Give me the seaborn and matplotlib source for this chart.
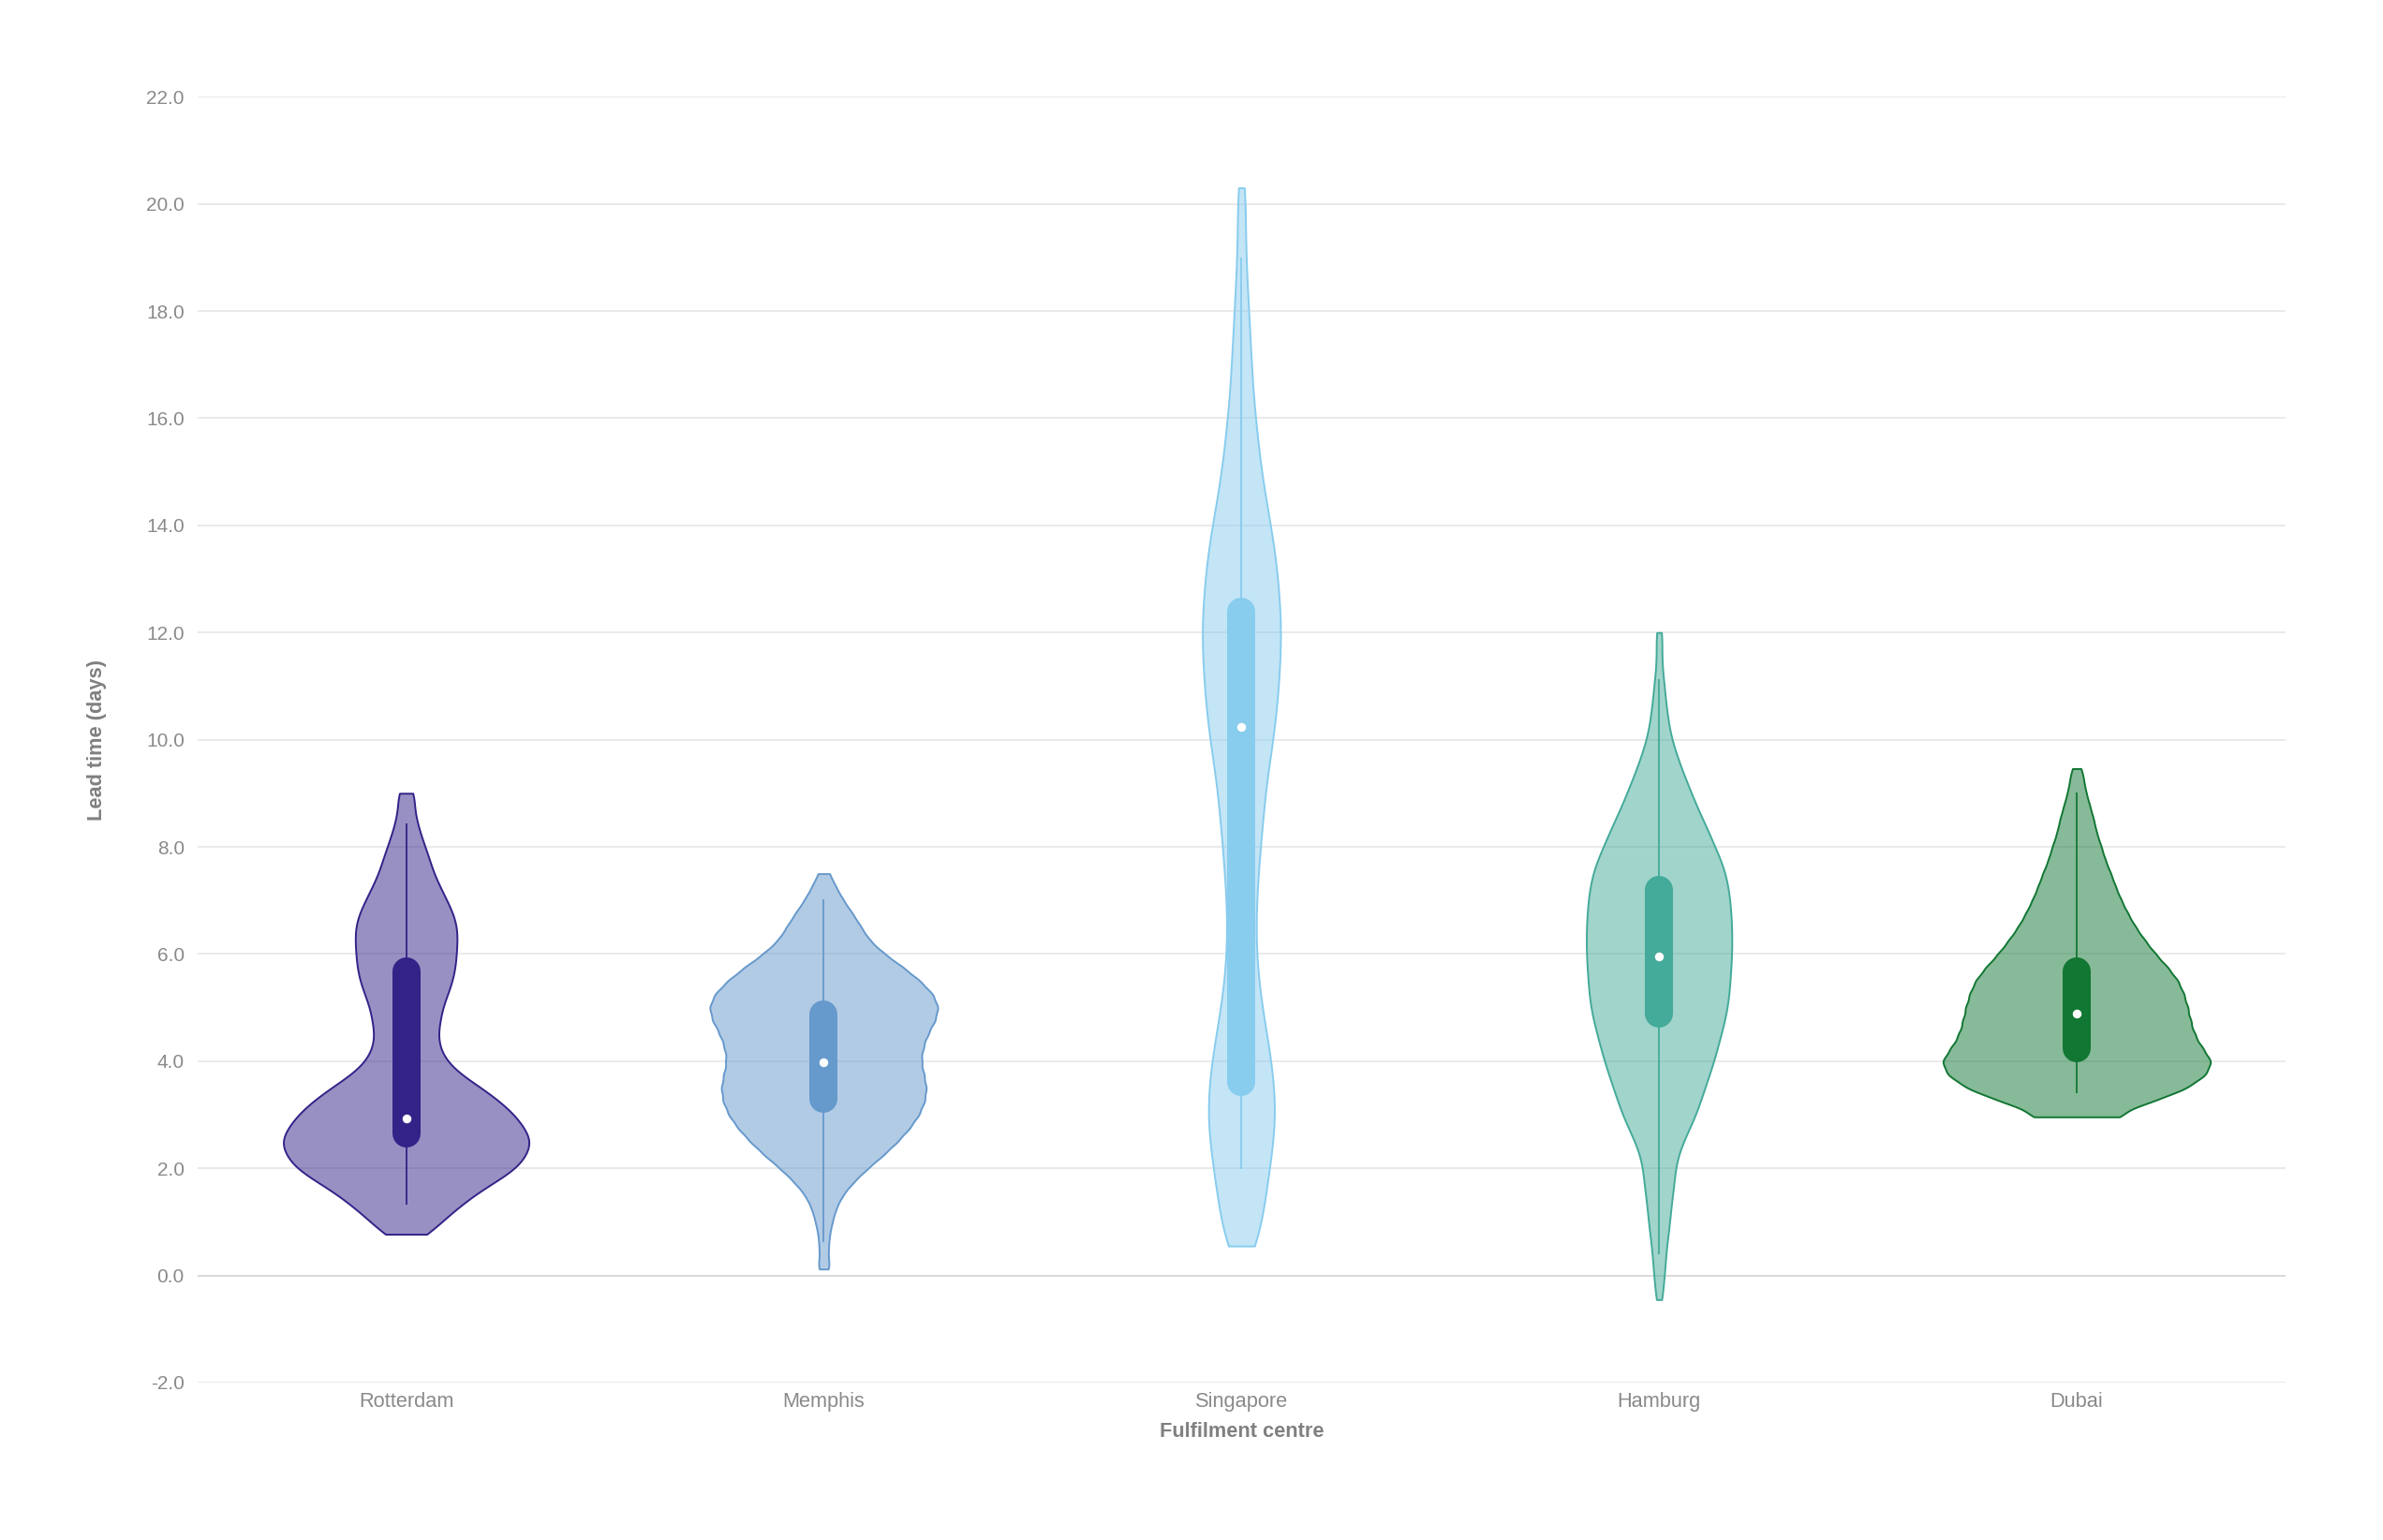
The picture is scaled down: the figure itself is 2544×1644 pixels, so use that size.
import numpy as np
import pandas as pd
import seaborn as sns
import matplotlib.pyplot as plt
from matplotlib.colors import to_rgb
from matplotlib.ticker import StrMethodFormatter

centres = ["Rotterdam", "Memphis", "Singapore", "Hamburg", "Dubai"]
colours = ["#332288", "#6699CC", "#88CCEE", "#44AA99", "#117733"]

# binned lead times: day value -> number of shipments in that bin
rotterdam_days = [0.77, 1.0, 1.25, 1.5, 1.75, 2.0, 2.25, 2.5, 2.75, 3.0, 3.25, 3.5,
                  3.75, 4.0, 4.25, 4.5, 4.75, 5.0, 5.25, 5.5, 5.75, 6.0, 6.25, 6.5,
                  6.75, 7.0, 7.25, 7.5, 7.75, 8.0, 8.25, 8.5, 8.75, 9.0]
rotterdam_n = [22, 36, 54, 71, 94, 118, 127, 134, 125, 115, 99, 80,
               57, 42, 35, 33, 36, 38, 44, 49, 52, 53, 54, 54,
               50, 43, 36, 29, 25, 20, 15, 11, 8, 10]

memphis_days = [0.12, 0.25, 0.5, 0.75, 1.0, 1.25, 1.5, 1.75, 2.0, 2.25, 2.5, 2.75,
                3.0, 3.25, 3.5, 3.75, 4.0, 4.25, 4.5, 4.75, 5.0, 5.25, 5.5, 5.75,
                6.0, 6.25, 6.5, 6.75, 7.0, 7.25, 7.5]
memphis_n = [4, 4, 5, 6, 9, 13, 20, 32, 47, 64, 79, 92,
             102, 108, 110, 107, 104, 106, 111, 119, 123, 117, 103, 85,
             65, 49, 40, 31, 21, 13, 6]

singapore_days = [0.55, 1.0, 1.5, 2.0, 2.5, 3.0, 3.5, 4.0, 4.5, 5.0, 5.5, 6.0, 6.5,
                  7.0, 7.5, 8.0, 8.5, 9.0, 9.5, 10.0, 10.5, 11.0, 11.5, 12.0, 12.5,
                  13.0, 13.5, 14.0, 14.5, 15.0, 15.5, 16.0, 16.5, 17.0, 17.5, 18.0,
                  18.5, 19.0, 19.5, 20.0, 20.3]
singapore_n = [16, 21, 26, 30, 34, 37, 35, 32, 27, 22, 18, 16, 15,
               16, 18, 20, 23, 25, 29, 34, 37, 40, 41, 43, 41,
               39, 36, 31, 26, 21, 18, 15, 12, 11, 9, 8,
               6, 5, 4, 4, 3]

hamburg_days = [-0.45, -0.25, 0.0, 0.25, 0.5, 0.75, 1.0, 1.25, 1.5, 1.75, 2.0, 2.25,
                2.5, 2.75, 3.0, 3.25, 3.5, 3.75, 4.0, 4.25, 4.5, 4.75, 5.0, 5.25,
                5.5, 5.75, 6.0, 6.25, 6.5, 6.75, 7.0, 7.25, 7.5, 7.75, 8.0, 8.25,
                8.5, 8.75, 9.0, 9.25, 9.5, 9.75, 10.0, 10.25, 10.5, 10.75, 11.0,
                11.25, 11.5, 11.75, 12.0]
hamburg_n = [3, 4, 6, 7, 8, 10, 12, 13, 15, 17, 18, 21,
             27, 34, 41, 46, 51, 56, 61, 65, 69, 73, 76, 78,
             79, 80, 81, 81, 81, 80, 79, 77, 74, 69, 62, 56,
             49, 42, 36, 30, 24, 19, 14, 11, 9, 7, 6,
             4, 3, 3, 4]

dubai_days = [2.96, 3.25, 3.5, 3.75, 4.0, 4.25, 4.5, 4.75, 5.0, 5.25, 5.5, 5.75,
              6.0, 6.25, 6.5, 6.75, 7.0, 7.25, 7.5, 7.75, 8.0, 8.25, 8.5, 8.75,
              9.0, 9.25, 9.46]
dubai_n = [54, 82, 117, 137, 143, 132, 124, 120, 117, 113, 107, 96,
           83, 72, 62, 54, 47, 41, 36, 30, 26, 21, 18, 14,
           10, 7, 4]

# box summary per centre
q1 = [2.39, 3.03, 3.35, 4.63, 3.98]
median = [2.93, 3.98, 10.23, 5.95, 4.89]
q3 = [5.93, 5.13, 12.65, 7.46, 5.93]
whisker_lo = [1.33, 0.63, 1.99, 0.39, 3.40]
whisker_hi = [8.43, 7.02, 19.0, 11.13, 9.02]

days = [rotterdam_days, memphis_days, singapore_days, hamburg_days, dubai_days]
counts = [rotterdam_n, memphis_n, singapore_n, hamburg_n, dubai_n]

frames = []
for name, d, n in zip(centres, days, counts):
    frames.append(pd.DataFrame({"centre": name, "lead_time": np.repeat(d, n)}))
df = pd.concat(frames, ignore_index=True)

sns.set_style("white")
plt.rcParams["font.family"] = ["Liberation Sans", "DejaVu Sans"]
plt.rcParams["axes.unicode_minus"] = False

fig = plt.figure(figsize=(25.44, 16.44), dpi=100)
ax_h = 0.835
ax = fig.add_axes([0.0828, 0.1022, 0.8763, ax_h])

sns.violinplot(data=df, x="centre", y="lead_time", hue="centre",
               order=centres, hue_order=centres,
               palette=dict(zip(centres, colours)), saturation=1,
               inner=None, cut=0, bw_method=0.1, gridsize=300,
               density_norm="area", common_norm=True, width=0.64,
               legend=False, ax=ax)

for coll in ax.collections:
    xs = coll.get_paths()[0].vertices[:, 0]
    k = int(round(xs.mean()))
    rgb = to_rgb(colours[k])
    coll.set_facecolor((*rgb, 0.5))
    coll.set_edgecolor(rgb)
    coll.set_linewidth(1.4)

# inner box: whisker, rounded IQR bar, white median dot
box_lw = 21.6
px_per_day = fig.get_figheight() * fig.dpi * ax_h / 24
cap = (box_lw / 2) * fig.dpi / 72 / px_per_day
for k, c in enumerate(colours):
    ax.plot([k, k], [whisker_lo[k], whisker_hi[k]], color=c, lw=1.3,
            solid_capstyle="butt", zorder=3)
    ax.plot([k, k], [q1[k] + cap, q3[k] - cap], color=c, lw=box_lw,
            solid_capstyle="round", zorder=4)
    ax.plot(k, median[k], marker="o", ms=5.8, color="white", mec="white", zorder=5)

ax.set_xlim(-0.5, 4.5)
ax.set_ylim(-2, 22)
ax.set_yticks(np.arange(-2, 23, 2))
ax.yaxis.set_major_formatter(StrMethodFormatter("{x:.1f}"))
ax.yaxis.grid(True, color="#e6e6e6", lw=1.2)
ax.xaxis.grid(False)
ax.set_axisbelow(True)
ax.axhline(0, color="#d9d9d9", lw=1.4, zorder=0.6)

for s in ax.spines.values():
    s.set_visible(False)

ax.tick_params(axis="both", length=0, colors="#8a8a8a")
ax.tick_params(axis="y", labelsize=15, pad=10)
ax.tick_params(axis="x", labelsize=15.7, pad=7)
ax.set_xlabel("Fulfilment centre", fontsize=15.7, fontweight="bold",
              color="#808080", labelpad=8)
ax.set_ylabel("Lead time (days)", fontsize=15.7, fontweight="bold",
              color="#808080", labelpad=30)

fig.savefig("out.png", dpi=100)
